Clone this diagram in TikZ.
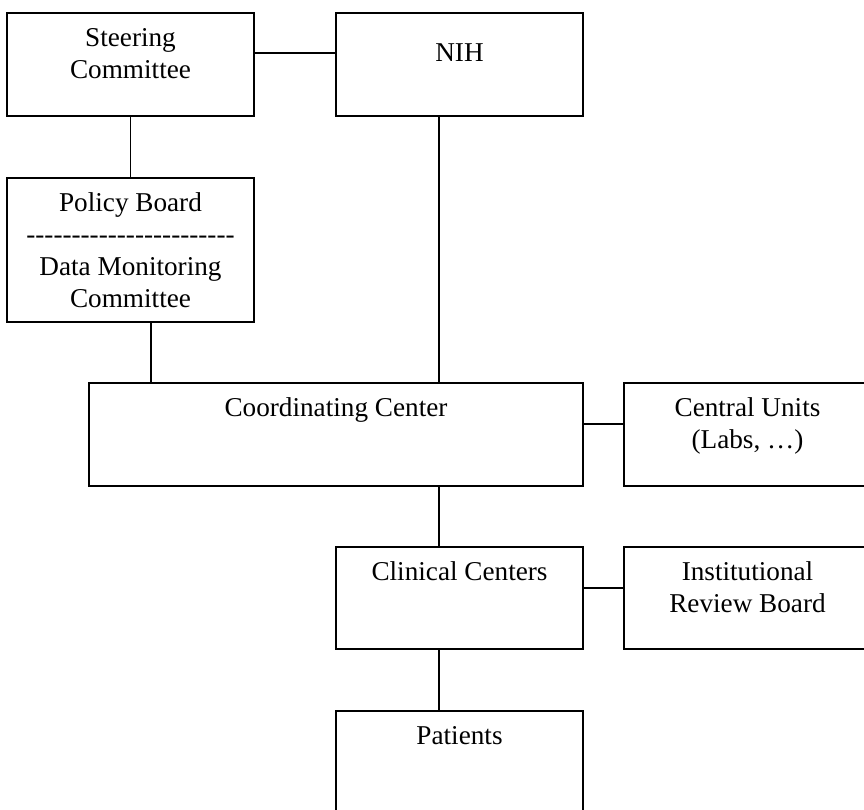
\documentclass[tikz,border=0pt]{standalone}
\usepackage{fontspec}
\setmainfont{Liberation Serif}[Ligatures=TeXOff]
\newcommand\tst{\rule{0pt}{22pt}}
\begin{document}
\begin{tikzpicture}[x=1pt,y=-1pt,
  box/.style={draw, line width=1.5pt, rectangle, inner sep=0pt, minimum width=247pt, minimum height=103pt},
  txt/.style={inner sep=0pt, align=center, anchor=north, font=\fontsize{27.2}{32}\selectfont},
  link/.style={line width=1.5pt}]
\useasboundingbox (0,0) rectangle (864,810);
\clip (0,0) rectangle (864,810);
% boxes
\node[box] (steer) at (130.5,64.5) {};
\node[box] (nih) at (459.5,64.5) {};
\node[box, minimum height=144pt] (policy) at (130.5,250) {};
\node[box, minimum width=494pt] (coord) at (336,434.5) {};
\node[box] (central) at (747.5,434.5) {};
\node[box, minimum height=102pt] (clin) at (459.5,598) {};
\node[box, minimum height=102pt] (irb) at (747.5,598) {};
\node[box] (pat) at (459.5,762.5) {};
% texts
\node[txt] (tsteer) at ([yshift=-12pt]steer.north) {\tst Steering\\Committee};
\node[txt] (tnih) at ([yshift=-27pt]nih.north) {\tst NIH};
\node[txt] (tpolicy) at ([yshift=-12pt]policy.north) {\tst Policy Board\\-----------------------\\Data Monitoring\\Committee};
\node[txt] (tcoord) at ([yshift=-12pt]coord.north) {\tst Coordinating Center};
\node[txt] (tcentral) at ([yshift=-12pt]central.north) {\tst Central Units\\(Labs, …)};
\node[txt] (tclin) at ([yshift=-12pt]clin.north) {\tst Clinical Centers};
\node[txt] (tirb) at ([yshift=-12pt]irb.north) {\tst Institutional\\Review Board};
\node[txt] (tpat) at ([yshift=-12pt]pat.north) {\tst Patients};
% connectors
\draw[link] ([yshift=11.5pt]steer.east) coordinate (a) -- (a -| nih.west);
\draw[link] (steer.south) -- (policy.north);
\draw[link] ([xshift=20.5pt]policy.south) coordinate (b) -- (b |- coord.north);
\draw[link] ([xshift=-20.5pt]nih.south) coordinate (c) -- (c |- coord.north);
\draw[link] ([yshift=10.5pt]coord.east) coordinate (d) -- (d -| central.west);
\draw[link] ([xshift=-20.5pt]clin.north) coordinate (e) -- (e |- coord.south);
\draw[link] ([yshift=10pt]clin.east) coordinate (f) -- (f -| irb.west);
\draw[link] ([xshift=-20.5pt]clin.south) coordinate (g) -- (g |- pat.north);
\end{tikzpicture}
\end{document}
